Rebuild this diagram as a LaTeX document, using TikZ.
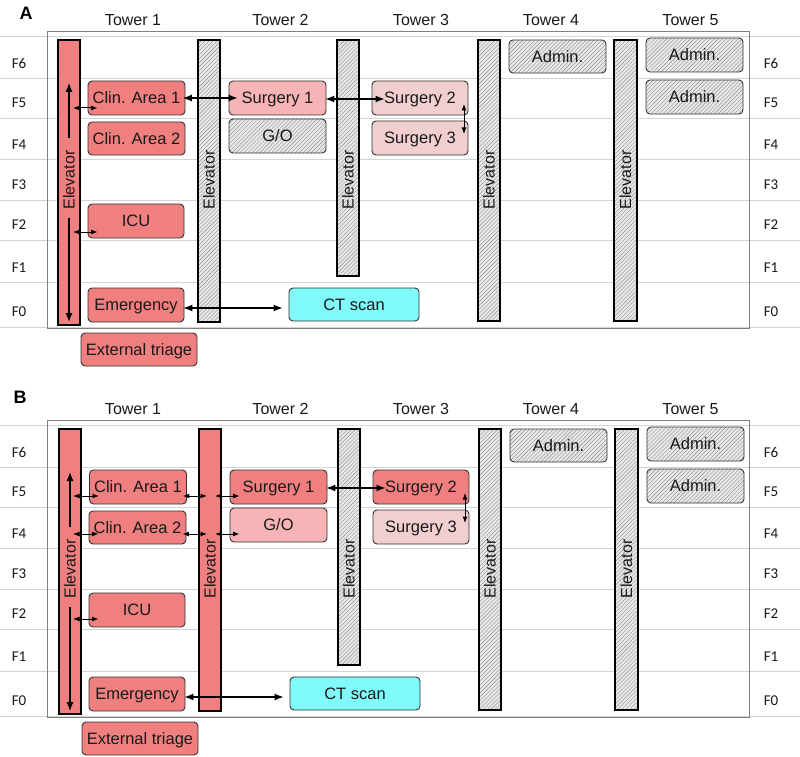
\documentclass[tikz,border=0pt]{standalone}
\usepackage{fontspec}
\setmainfont{Liberation Sans}
\newfontfamily\flrfont{Carlito}
\usetikzlibrary{arrows.meta,patterns.meta,calc}

\definecolor{redA}{HTML}{F08080}
\definecolor{pinkA}{HTML}{F7B4B6}
\definecolor{paleA}{HTML}{F1CFD0}
\definecolor{cyanA}{HTML}{80FAFA}
\definecolor{hatchbg}{HTML}{E8E8E8}
\definecolor{hatchfg}{HTML}{8C8C8C}
\definecolor{floorline}{HTML}{D4D4D4}

\tikzset{
  room/.style={draw=black!80, line width=0.9pt, rounded corners=4pt, inner sep=0pt,
    font=\fontsize{16.5}{18}\selectfont, text=black!90, text height=11.8pt, text depth=0pt},
  rwh/.style 2 args={minimum width=#1pt, minimum height=#2pt},
  hatched/.style={preaction={fill=hatchbg},
    pattern={Lines[angle=45,distance=2.8pt,line width=0.4pt]}, pattern color=hatchfg},
  elevbox/.style={draw=black, line width=1.8pt, inner sep=0pt, minimum width=22.5pt},
  elevtext/.style={rotate=90, font=\fontsize{16}{18}\selectfont, text=black!90, inner sep=0pt},
  tower/.style={font=\fontsize{16}{18}\selectfont, text=black!90, inner sep=0pt},
  flr/.style={font=\flrfont\fontsize{15}{17}\selectfont, text=black!90, inner sep=0pt},
  panel/.style={font=\bfseries\fontsize{18}{20}\selectfont, inner sep=0pt},
  conn/.style={{Latex[length=9pt,width=7pt]}-{Latex[length=9pt,width=7pt]}, line width=1.2pt},
  sconn/.style={{Latex[length=6.5pt,width=5pt]}-{Latex[length=6.5pt,width=5pt]}, line width=1pt},
  vflow/.style={-{Latex[length=9pt,width=7pt]}, line width=1.2pt},
}

\begin{document}
\begin{tikzpicture}[x=1pt,y=-1pt]
\useasboundingbox (0,0) rectangle (800,757);

% ================= PANEL A =================
\begin{scope}[name prefix=A-]
  \node[panel] (lab) at (26,13) {A};
  \foreach \yy in {36,78,118,159,200,240,282,327}
    \draw[floorline, line width=0.7pt] (0,\yy) -- (800,\yy);
  \draw[gray, line width=0.8pt] (47,31) rectangle (749,328);
  \foreach \f/\yy in {6/63,5/103,4/145,3/185,2/225,1/268,0/312}{
    \node[flr] (fl\f) at (19,\yy) {F\f};
    \node[flr] (fr\f) at (771,\yy) {F\f};
  }
  \node[tower] (t1) at (133,20) {Tower 1};
  \node[tower] (t2) at (280.5,20) {Tower 2};
  \node[tower] (t3) at (421,20) {Tower 3};
  \node[tower] (t4) at (551,20) {Tower 4};
  \node[tower] (t5) at (690.5,20) {Tower 5};

  \node[elevbox, fill=redA, minimum height=285pt] (e1) at (69,182.5) {};
  \node[elevbox, hatched, minimum height=282pt] (e2) at (209,181) {};
  \node[elevbox, hatched, minimum height=236pt] (e3) at (348,158) {};
  \node[elevbox, hatched, minimum height=281pt] (e4) at (489,180.5) {};
  \node[elevbox, hatched, minimum height=281pt] (e5) at (625.5,180.5) {};
  \foreach \n/\xx in {1/69,2/209,3/348,4/489,5/625.5}
    \node[elevtext] (e\n t) at (\xx,180) {Elevator};

  \node[room, fill=redA, rwh={97}{34}] (ca1) at (136.5,98) {Clin. Area 1};
  \node[room, fill=redA, rwh={97}{33}] (ca2) at (136.5,138.5) {Clin. Area 2};
  \node[room, fill=redA, rwh={96}{34}] (icu) at (136,221) {ICU};
  \node[room, fill=redA, rwh={96}{34}] (emer) at (136,305) {Emergency};
  \node[room, fill=redA, rwh={116}{33}] (ext) at (139,349.5) {External triage};
  \node[room, fill=pinkA, rwh={97}{34}] (s1) at (277.5,98) {Surgery 1};
  \node[room, hatched, rwh={97}{34}] (go) at (277.5,136) {G/O};
  \node[room, fill=paleA, rwh={96}{34}] (s2) at (420,98) {Surgery 2};
  \node[room, fill=paleA, rwh={96}{34}] (s3) at (420,138) {Surgery 3};
  \node[room, hatched, rwh={97}{33}] (ad4) at (557.5,56.5) {Admin.};
  \node[room, hatched, rwh={97}{34}] (ad5a) at (694.5,55) {Admin.};
  \node[room, hatched, rwh={97}{34}] (ad5b) at (694.5,97) {Admin.};
  \node[room, fill=cyanA, rwh={130}{33}] (ct) at (354,304.5) {CT scan};

  % elevator flows
  \coordinate (up0) at (69,138); \coordinate (up1) at (69,83);
  \coordinate (dn0) at (69,218); \coordinate (dn1) at (69,322);
  \draw[vflow] (up0) -- (up1);
  \draw[vflow] (dn0) -- (dn1);
  \coordinate (e1f5) at (73,108); \coordinate (e1f2) at (73,232);
  \draw[sconn] (e1f5) -- ($(ca1.west|-e1f5)+(10,0)$);
  \draw[sconn] (e1f2) -- ($(icu.west|-e1f2)+(10,0)$);
  % horizontal links
  \draw[conn] ($(ca1.east)+(-2.5,0)$) -- ($(s1.west)+(9,0)$);
  \draw[conn] ($(s1.east)+(-1,1)$) -- ($(s2.west)+(13,1)$);
  \draw[conn] ($(emer.east)+(-1,3)$) -- ($(ct.west)+(-6,3.5)$);
  \coordinate (v0) at (464,104); \coordinate (v1) at (464,134);
  \draw[sconn] (v0) -- (v1);
\end{scope}

% ================= PANEL B =================
\begin{scope}[yshift=-389pt, name prefix=B-]
  \node[panel] (lab) at (20,8) {B};
  \foreach \yy in {36,78,118,159,200,240,282,327}
    \draw[floorline, line width=0.7pt] (0,\yy) -- (800,\yy);
  \draw[gray, line width=0.8pt] (47,31) rectangle (749,328);
  \foreach \f/\yy in {6/63,5/103,4/145,3/185,2/225,1/268,0/312}{
    \node[flr] (fl\f) at (19,\yy) {F\f};
    \node[flr] (fr\f) at (771,\yy) {F\f};
  }
  \node[tower] (t1) at (133,20) {Tower 1};
  \node[tower] (t2) at (280.5,20) {Tower 2};
  \node[tower] (t3) at (421,20) {Tower 3};
  \node[tower] (t4) at (551,20) {Tower 4};
  \node[tower] (t5) at (690.5,20) {Tower 5};

  \node[elevbox, fill=redA, minimum height=285pt] (e1) at (70,182.5) {};
  \node[elevbox, fill=redA, minimum height=282pt] (e2) at (210,181) {};
  \node[elevbox, hatched, minimum height=236pt] (e3) at (349,158) {};
  \node[elevbox, hatched, minimum height=281pt] (e4) at (490,180.5) {};
  \node[elevbox, hatched, minimum height=281pt] (e5) at (626.5,180.5) {};
  \foreach \n/\xx in {1/70,2/210,3/349,4/490,5/626.5}
    \node[elevtext] (e\n t) at (\xx,180) {Elevator};

  \node[room, fill=redA, rwh={97}{34}] (ca1) at (138,98) {Clin. Area 1};
  \node[room, fill=redA, rwh={97}{33}] (ca2) at (137.5,138.5) {Clin. Area 2};
  \node[room, fill=redA, rwh={96}{34}] (icu) at (137,221) {ICU};
  \node[room, fill=redA, rwh={96}{34}] (emer) at (137,305) {Emergency};
  \node[room, fill=redA, rwh={116}{33}] (ext) at (140,349.5) {External triage};
  \node[room, fill=redA, rwh={97}{34}] (s1) at (278.5,98) {Surgery 1};
  \node[room, fill=pinkA, rwh={97}{34}] (go) at (278.5,136) {G/O};
  \node[room, fill=redA, rwh={96}{34}] (s2) at (421,98) {Surgery 2};
  \node[room, fill=paleA, rwh={96}{34}] (s3) at (421,138) {Surgery 3};
  \node[room, hatched, rwh={97}{33}] (ad4) at (558.5,56.5) {Admin.};
  \node[room, hatched, rwh={97}{34}] (ad5a) at (695.5,55) {Admin.};
  \node[room, hatched, rwh={97}{34}] (ad5b) at (695.5,97) {Admin.};
  \node[room, fill=cyanA, rwh={130}{33}] (ct) at (355,304.5) {CT scan};

  % elevator flows
  \coordinate (up0) at (70,138); \coordinate (up1) at (70,83);
  \coordinate (dn0) at (70,218); \coordinate (dn1) at (70,322);
  \draw[vflow] (up0) -- (up1);
  \draw[vflow] (dn0) -- (dn1);
  \coordinate (e1f5) at (73,107); \coordinate (e1f4) at (73,145);
  \coordinate (e1f2) at (73,230);
  \draw[sconn] (e1f5) -- ($(ca1.west|-e1f5)+(10,0)$);
  \draw[sconn] (e1f4) -- ($(ca2.west|-e1f4)+(10,0)$);
  \draw[sconn] (e1f2) -- ($(icu.west|-e1f2)+(10,0)$);
  % links through elevator 2
  \coordinate (e2f5a) at (207,107); \coordinate (e2f5b) at (215,107);
  \coordinate (e2f4a) at (207,145); \coordinate (e2f4b) at (215,145);
  \draw[sconn] ($(ca1.east|-e2f5a)+(-4,0)$) -- (e2f5a);
  \draw[sconn] (e2f5b) -- ($(s1.west|-e2f5b)+(10,0)$);
  \draw[sconn] ($(ca2.east|-e2f4a)+(-4,0)$) -- (e2f4a);
  \draw[sconn] (e2f4b) -- ($(go.west|-e2f4b)+(10,0)$);
  % horizontal links
  \draw[conn] ($(s1.east)+(-1,1)$) -- ($(s2.west)+(13,1)$);
  \draw[conn] ($(emer.east)+(-1,3)$) -- ($(ct.west)+(-6,3.5)$);
  \coordinate (v0) at (465,104); \coordinate (v1) at (465,134);
  \draw[sconn] (v0) -- (v1);
\end{scope}
\end{tikzpicture}
\end{document}
